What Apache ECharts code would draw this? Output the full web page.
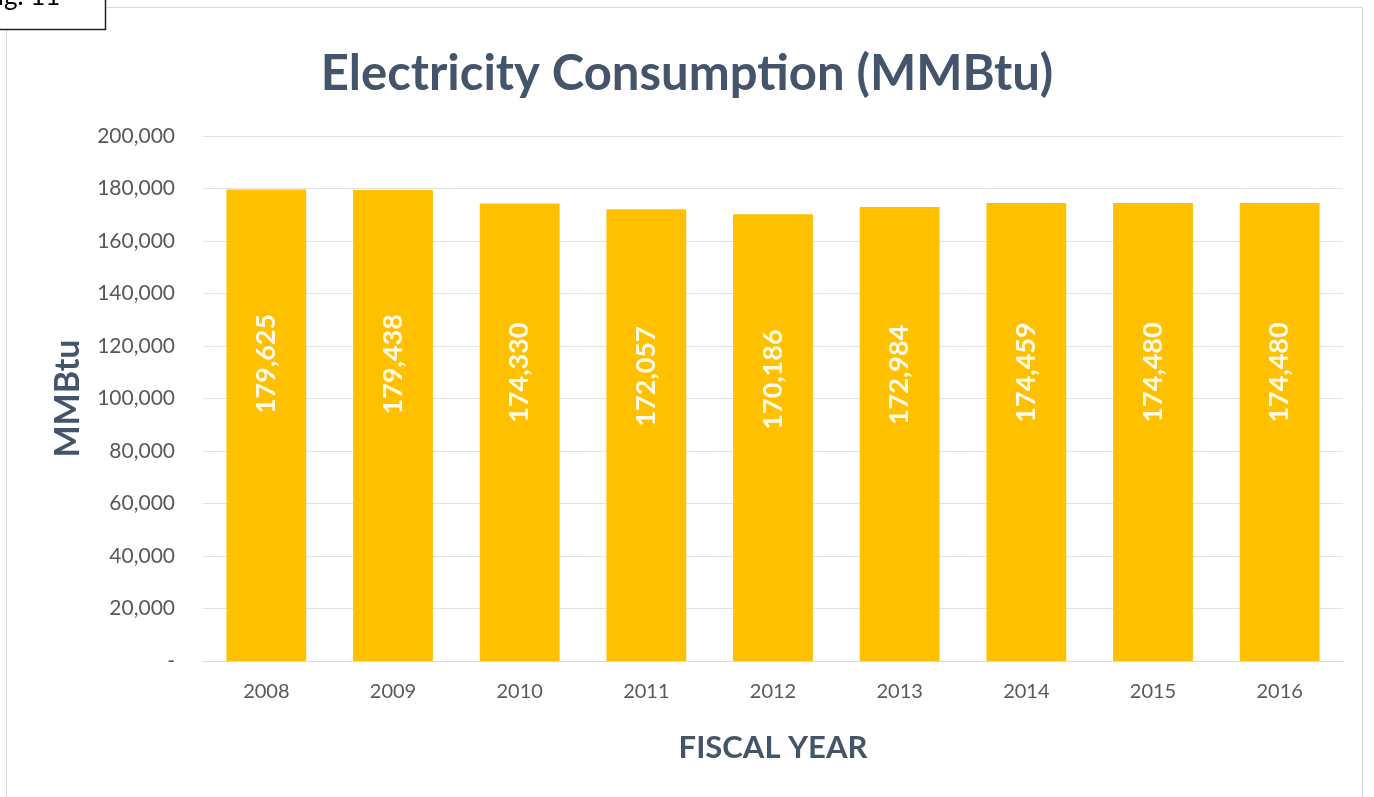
<!DOCTYPE html>
<html>
<head>
<meta charset="utf-8">
<script src="https://cdn.jsdelivr.net/npm/echarts@6/dist/echarts.min.js"></script>
<style>
  html, body { margin: 0; padding: 0; background: #ffffff; }
  #chart { width: 1374px; height: 797px; }
</style>
</head>
<body>
<div id="chart"></div>
<script>
// Fiscal years and annual electricity use (MMBtu)
const fiscalYears = ['2008', '2009', '2010', '2011', '2012', '2013', '2014', '2015', '2016'];
const consumption = [179625, 179438, 174330, 172057, 170186, 172984, 174459, 174480, 174480];

const fmt = v => v === 0 ? '-' : v.toLocaleString('en-US');
const FONT = 'Lato, "Open Sans", sans-serif';

const chart = echarts.init(document.getElementById('chart'), null, { renderer: 'canvas' });

chart.setOption({
  backgroundColor: '#ffffff',
  animation: false,
  textStyle: { fontFamily: FONT },
  title: {
    text: 'Electricity Consumption (MMBtu)',
    left: 'center',
    top: 45,
    textStyle: { fontFamily: FONT, fontSize: 49, fontWeight: 'bold', color: '#44546a' }
  },
  graphic: [
    {
      type: 'rect',
      shape: { x: 6.5, y: 7.5, width: 1356, height: 800 },
      style: { fill: 'none', stroke: '#d9d9d9', lineWidth: 1 },
      z: 0
    },
    {
      type: 'rect',
      shape: { x: -10, y: -10, width: 115.5, height: 39.5 },
      style: { fill: '#ffffff', stroke: '#222222', lineWidth: 1.5 },
      z: 10
    },
    {
      type: 'text',
      left: -17,
      top: -16,
      style: { text: 'Fig. 11', font: '26px ' + FONT, fill: '#000000' },
      z: 11
    }
  ],
  grid: { left: 203, right: 31, top: 136, bottom: 136 },
  xAxis: {
    type: 'category',
    data: fiscalYears,
    name: 'FISCAL YEAR',
    nameLocation: 'middle',
    nameGap: 71,
    nameTextStyle: { fontFamily: FONT, fontSize: 31, fontWeight: 'bold', color: '#44546a' },
    axisLine: { lineStyle: { color: '#d9d9d9', width: 1 } },
    axisTick: { show: false },
    axisLabel: { color: '#595959', fontSize: 20, margin: 21, fontFamily: FONT }
  },
  yAxis: {
    type: 'value',
    min: 0,
    max: 200000,
    interval: 20000,
    name: 'MMBtu',
    nameLocation: 'middle',
    nameGap: 118,
    nameTextStyle: { fontFamily: FONT, fontSize: 34, fontWeight: 'bold', color: '#44546a' },
    axisLine: { show: false },
    axisTick: { show: false },
    splitLine: { lineStyle: { color: '#e3e3e3', width: 1 } },
    axisLabel: { color: '#595959', fontSize: 21, margin: 28, fontFamily: FONT, formatter: fmt }
  },
  series: [{
    type: 'bar',
    data: consumption,
    barCategoryGap: '37%',
    itemStyle: { color: '#ffc000' },
    label: {
      show: true,
      position: ['50%', '37%'],
      rotate: 90,
      align: 'center',
      verticalAlign: 'middle',
      color: '#fffbe8',
      fontFamily: FONT,
      fontSize: 27,
      fontWeight: 'bold',
      formatter: p => fmt(p.value)
    }
  }]
});
</script>
</body>
</html>
